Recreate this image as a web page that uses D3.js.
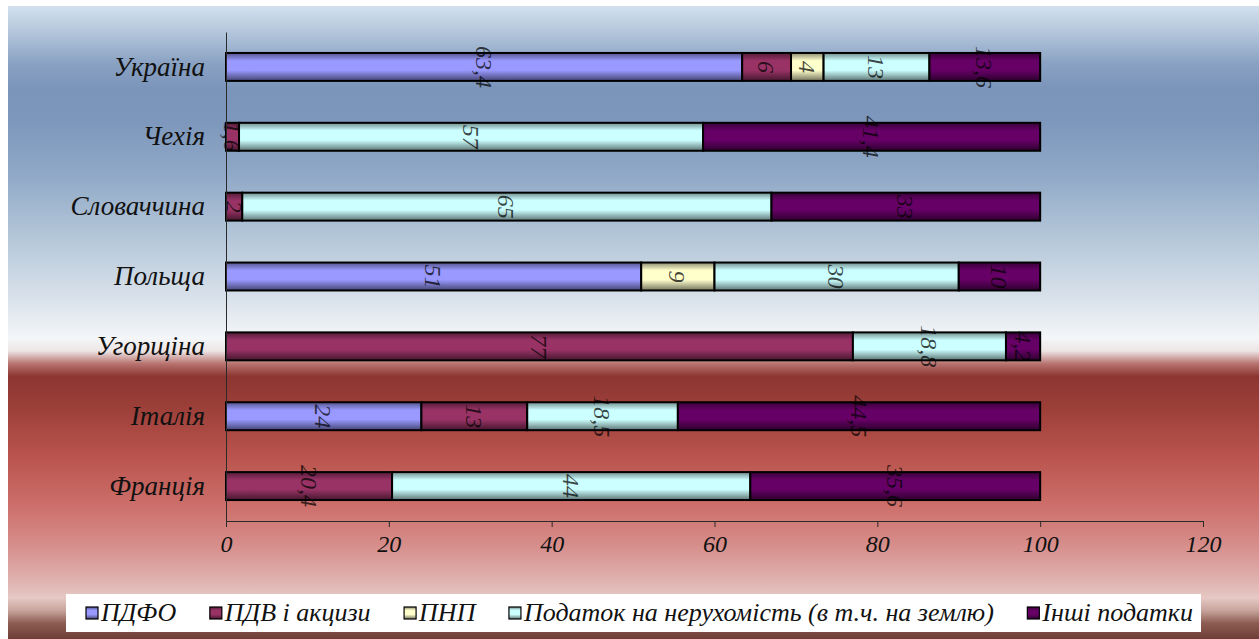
<!DOCTYPE html>
<html>
<head>
<meta charset="utf-8">
<script src="https://cdn.jsdelivr.net/npm/d3@7/dist/d3.min.js"></script>
<style>
  html, body { margin: 0; padding: 0; background: #ffffff; }
  svg { display: block; }
  svg text { font-family: 'Liberation Serif', 'Times New Roman', Tinos, 'DejaVu Serif', serif !important; font-style: italic; }
</style>
</head>
<body>
<svg id="chart" width="1259" height="639"></svg>
<script>
// Countries, top to bottom
const countries = ["Україна", "Чехія", "Словаччина", "Польща", "Угорщіна", "Італія", "Франція"];

// Tax groups (stack order, left to right)
const taxNames = ["ПДФО", "ПДВ і акцизи", "ПНП", "Податок на нерухомість (в т.ч. на землю)", "Інші податки"];
const taxColors = ["#9999ff", "#993366", "#ffffcc", "#ccffff", "#660066"];

// Share of each tax group, %, per country (same order as countries)
const pdfo     = [63.4, 0,    0,  51, 0,    24,   0];
const pdv      = [6,    1.6,  2,  0,  77,   13,   20.4];
const pnp      = [4,    0,    0,  9,  0,    0,    0];
const property = [13,   57,   65, 30, 18.8, 18.5, 44];
const other    = [13.6, 41.4, 33, 10, 4.2,  44.5, 35.6];

// Value axis
const xTicks = [0, 20, 40, 60, 80, 100, 120];

const seriesValues = [pdfo, pdv, pnp, property, other];
const rows = countries.map((c, i) => {
  const r = { country: c };
  taxNames.forEach((k, j) => { r[k] = seriesValues[j][i]; });
  return r;
});

const FONT = "'Liberation Serif', 'Times New Roman', Tinos, 'DejaVu Serif', serif";
const svg = d3.select("#chart");
const W = 1259, H = 639;
const defs = svg.append("defs");

// Backdrop: blue sky fading to white, then red fading to pink and brown
const bg = defs.append("linearGradient").attr("id", "bg")
  .attr("x1", 0).attr("y1", 0).attr("x2", 0).attr("y2", 1);
[
  [0.00, "#d3e0ee"], [0.04, "#b4c7dc"], [0.09, "#8aa2c3"], [0.13, "#7b94ba"],
  [0.18, "#7d97bc"], [0.26, "#8ea7c6"], [0.36, "#b2c5d8"], [0.46, "#d8e1ea"],
  [0.525, "#f4f6f8"], [0.545, "#ede5e5"], [0.565, "#b87470"], [0.585, "#8c3632"],
  [0.63, "#9b3e38"], [0.71, "#b9534d"], [0.79, "#cd6f6b"], [0.855, "#d7908d"],
  [0.905, "#deb0ad"], [0.935, "#e6c8c4"], [0.955, "#c7a49c"], [0.975, "#8d5c52"],
  [1.00, "#6e3d36"]
].forEach(([o, c]) => bg.append("stop").attr("offset", o).attr("stop-color", c));

svg.append("rect").attr("x", 8).attr("y", 6).attr("width", W - 8).attr("height", H - 6)
  .attr("fill", "url(#bg)");

// Shaded fills for the bars: darker rims at the top and bottom
taxColors.forEach((c, j) => {
  const g = defs.append("linearGradient").attr("id", "fill" + j)
    .attr("x1", 0).attr("y1", 0).attr("x2", 0).attr("y2", 1);
  const dark1 = d3.interpolateRgb(c, "#000")(0.45);
  const dark2 = d3.interpolateRgb(c, "#000")(0.55);
  [[0, dark1], [0.28, c], [0.62, c], [1, dark2]]
    .forEach(([o, col]) => g.append("stop").attr("offset", o).attr("stop-color", col));
});

const margin = { left: 226, right: 56, top: 32, bottom: 118 };
const x = d3.scaleLinear().domain([0, 120]).range([margin.left, W - margin.right]);
const y = d3.scaleBand().domain(countries).range([margin.top, H - margin.bottom])
  .paddingInner(0.6).paddingOuter(0.3);

const stacked = d3.stack().keys(taxNames)(rows);

// Bars
const layers = svg.append("g").selectAll("g").data(stacked).join("g")
  .attr("fill", (d, j) => `url(#fill${j})`);

layers.selectAll("rect")
  .data(d => d.filter(s => s.data[d.key] > 0))
  .join("rect")
  .attr("x", s => x(s[0]))
  .attr("y", s => y(s.data.country))
  .attr("width", s => x(s[1]) - x(s[0]))
  .attr("height", y.bandwidth())
  .attr("stroke", "#000")
  .attr("stroke-width", 2);

// Value labels, rotated to run downward
const fmt = v => String(v).replace(".", ",");
const labels = svg.append("g");
stacked.forEach(layer => {
  layer.filter(s => s.data[layer.key] > 0).forEach(s => {
    const cx = x((s[0] + s[1]) / 2);
    const cy = y(s.data.country) + y.bandwidth() / 2;
    labels.append("text")
      .attr("transform", `translate(${cx},${cy}) rotate(90)`)
      .attr("text-anchor", "middle")
      .attr("dy", "0.35em")
      .attr("font-family", FONT)
      .attr("font-size", 24)
      .attr("fill", "#000")
      .attr("fill-opacity", 0.72)
      .text(fmt(s.data[layer.key]));
  });
});

// Value axis
const axisG = svg.append("g").attr("transform", `translate(0,${H - margin.bottom})`)
  .call(d3.axisBottom(x).tickValues(xTicks).tickSize(6).tickPadding(8).tickSizeOuter(0));
axisG.attr("font-family", FONT);
axisG.select(".domain").attr("stroke", "#2a2a2a");
axisG.selectAll(".tick line").attr("stroke", "#2a2a2a");
axisG.selectAll(".tick text")
  .attr("font-size", 24).attr("fill", "#111");

// Category axis
const yAxisG = svg.append("g").attr("transform", `translate(${margin.left},0)`)
  .call(d3.axisLeft(y).tickSize(0).tickPadding(21));
yAxisG.attr("font-family", FONT);
yAxisG.select(".domain").attr("stroke", "#2a2a2a");
yAxisG.selectAll(".tick text")
  .attr("font-size", 27).attr("fill", "#111");

// Legend
const legendBox = { x: 66, y: 594, w: 1135, h: 38 };
svg.append("rect").attr("x", legendBox.x).attr("y", legendBox.y)
  .attr("width", legendBox.w).attr("height", legendBox.h).attr("fill", "#fff");

const lg = svg.append("g").attr("font-family", FONT);
const items = taxNames.map((name, j) => {
  const g = lg.append("g");
  g.append("rect").attr("x", 0).attr("y", -14).attr("width", 12).attr("height", 12)
    .attr("fill", `url(#fill${j})`).attr("stroke", "#000").attr("stroke-width", 1.2);
  const t = g.append("text").attr("x", 15).attr("y", 0).attr("font-size", 26)
    .attr("fill", "#111").text(name);
  return { g, w: 15 + t.node().getComputedTextLength() };
});
const startX = 86, endX = 1193;
const total = d3.sum(items, d => d.w);
const gap = (endX - startX - total) / (items.length - 1);
let cursor = startX;
items.forEach(it => {
  it.g.attr("transform", `translate(${cursor},${legendBox.y + 27})`);
  cursor += it.w + gap;
});
</script>
</body>
</html>
